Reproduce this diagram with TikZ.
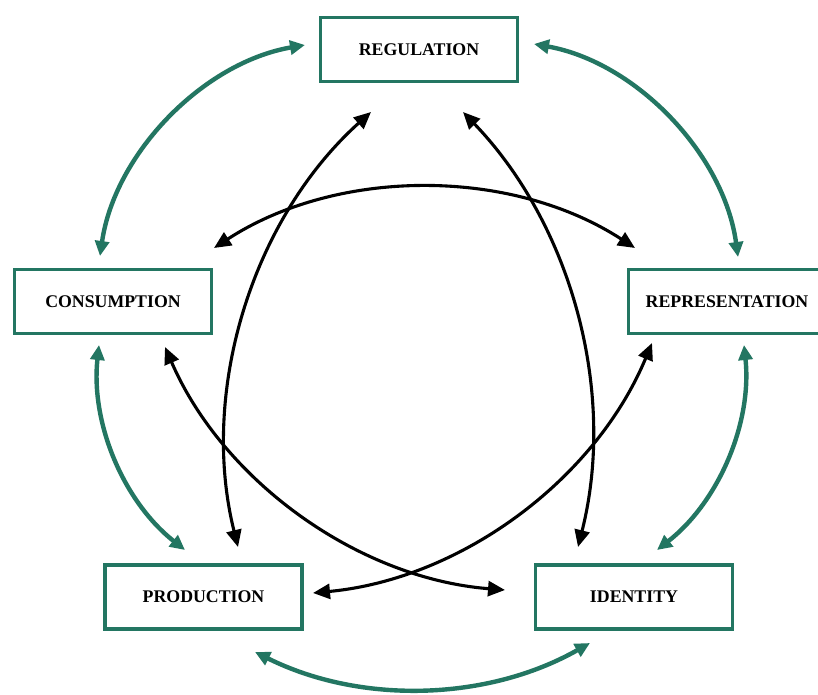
\documentclass[tikz,border=0pt]{standalone}
\usepackage{fontspec}
\setmainfont{Liberation Serif}
\usetikzlibrary{arrows.meta}
\definecolor{tealc}{RGB}{35,118,98}
\begin{document}
\begin{tikzpicture}[x=1pt,y=1pt,
  box/.style={draw=tealc, line width=3.4pt, minimum width=197pt, minimum height=64pt,
    inner sep=0pt, font=\fontsize{17.8}{20}\selectfont\bfseries, text=black},
  garrow/.style={draw=tealc, line width=4.4pt,
    {Triangle[length=15pt,width=14pt]}-{Triangle[length=15pt,width=14pt]}, looseness=0.9},
  barrow/.style={draw=black, line width=3.1pt,
    {Triangle[length=17pt,width=15pt]}-{Triangle[length=17pt,width=15pt]}, looseness=0.9}]
\useasboundingbox (0,0) rectangle (818,695);
\fill[white] (0,0) rectangle (818,695);
% boxes
\node[box] (reg)  at (419,645.5) {REGULATION};
\node[box] (con)  at (113,393.5) {CONSUMPTION};
\node[box] (rep)  at (727,393.5) {REPRESENTATION};
\node[box] (prod) at (203.5,98)  {PRODUCTION};
\node[box] (idn)  at (634,98)    {IDENTITY};
% arrow end points
\coordinate (g1a) at (305,650); \coordinate (g1b) at (100,439);
\coordinate (g2a) at (534,651); \coordinate (g2b) at (738,438);
\coordinate (g3a) at (99,350);  \coordinate (g3b) at (185,145);
\coordinate (g4a) at (744,350); \coordinate (g4b) at (657,145);
\coordinate (g5a) at (255,43);  \coordinate (g5b) at (590,52);
\coordinate (b1a) at (371,583); \coordinate (b1b) at (238,148);
\coordinate (b2a) at (463,583); \coordinate (b2b) at (578,148);
\coordinate (b3a) at (214,447); \coordinate (b3b) at (635,447);
\coordinate (b4a) at (165,348); \coordinate (b4b) at (505,105);
\coordinate (b5a) at (652,352); \coordinate (b5b) at (313,102);
% outer green arrows
\draw[garrow] (g1a) to[bend right=36] (g1b);
\draw[garrow] (g2a) to[bend left=36]  (g2b);
\draw[garrow] (g3a) to[bend right=29] (g3b);
\draw[garrow] (g4a) to[bend left=29]  (g4b);
\draw[garrow] (g5a) to[bend right=28] (g5b);
% inner black arrows
\draw[barrow] (b1a) to[bend right=31] (b1b);
\draw[barrow] (b2a) to[bend left=29]  (b2b);
\draw[barrow] (b3a) to[bend left=33]  (b3b);
\draw[barrow] (b4a) to[bend right=31] (b4b);
\draw[barrow] (b5a) to[bend left=31]  (b5b);
\end{tikzpicture}
\end{document}
